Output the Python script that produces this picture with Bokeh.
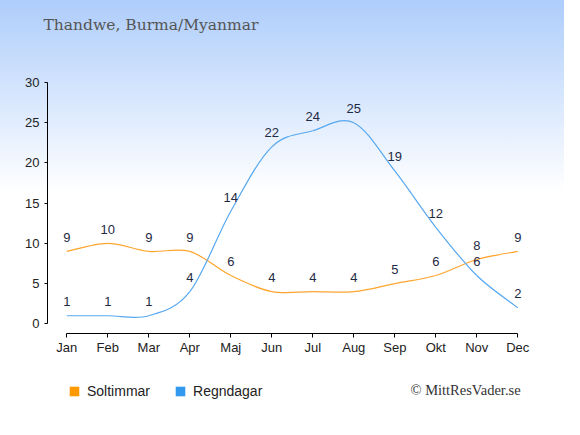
from bokeh.plotting import figure
from bokeh.models import Range1d, FixedTicker, Label, Legend, LegendItem, ColumnDataSource
from bokeh.core.properties import value
from bokeh.embed import file_html
from bokeh.resources import INLINE

# ---- data ----
months = ["Jan", "Feb", "Mar", "Apr", "Maj", "Jun", "Jul", "Aug", "Sep", "Okt", "Nov", "Dec"]
sun_hours = [9, 10, 9, 9, 6, 4, 4, 4, 5, 6, 8, 9]
rain_days = [1, 1, 1, 4, 14, 22, 24, 25, 19, 12, 6, 2]
y_ticks = [0, 5, 10, 15, 20, 25, 30]
series_names = ["Soltimmar", "Regndagar"]
title_text = "Thandwe, Burma/Myanmar"
credit_text = "\u00a9 MittResVader.se"

SUN_LINE = "#ffa52e"
RAIN_LINE = "#57a8f0"
SUN_KEY = "#ff9900"
RAIN_KEY = "#3399ee"
LABEL_COLOR = "#1f2a44"

xs = list(range(len(months)))
NAN = float("nan")


def spline_segments(px, py):
    """Catmull-Rom spline expressed as cubic Bezier segments (control points from the data)."""
    n = len(px)
    d = {k: [] for k in ("x0", "y0", "x1", "y1", "cx0", "cy0", "cx1", "cy1")}
    for i in range(n - 1):
        a = max(i - 1, 0)
        b = min(i + 2, n - 1)
        d["x0"].append(px[i]); d["y0"].append(py[i])
        d["x1"].append(px[i + 1]); d["y1"].append(py[i + 1])
        d["cx0"].append(px[i] + (px[i + 1] - px[a]) / 6)
        d["cy0"].append(py[i] + (py[i + 1] - py[a]) / 6)
        d["cx1"].append(px[i + 1] - (px[b] - px[i]) / 6)
        d["cy1"].append(py[i + 1] - (py[b] - py[i]) / 6)
    return ColumnDataSource(d)


p = figure(width=564, height=419,
           x_range=Range1d(-1.617, 12.139), y_range=Range1d(-11.899, 40.197),
           output_backend="svg", toolbar_location=None,
           min_border=0, min_border_left=0, min_border_right=0,
           min_border_top=0, min_border_bottom=0,
           background_fill_alpha=0, border_fill_alpha=0, outline_line_color=None)
p.styles = {"background": "linear-gradient(to bottom, #aecdfb 0px, #ffffff 192px)"}
p.grid.visible = False

# axes (drawn at fixed positions inside the frame)
p.xaxis.fixed_location = -1.206
p.yaxis.fixed_location = -0.471
p.xaxis.ticker = FixedTicker(ticks=xs)
p.xaxis.major_label_overrides = {i: m for i, m in enumerate(months)}
p.xaxis.bounds = (0, len(months) - 1)
p.yaxis.ticker = FixedTicker(ticks=y_ticks)
p.yaxis.bounds = (y_ticks[0], y_ticks[-1])
for ax in (p.xaxis, p.yaxis):
    ax.axis_line_color = "#000000"
    ax.major_tick_line_color = "#000000"
    ax.minor_tick_line_color = None
    ax.major_tick_in = 0
    ax.major_label_text_font = "Liberation Sans"
    ax.major_label_text_font_size = "13px"
    ax.major_label_text_color = "#222222"
p.xaxis.major_tick_out = 4
p.xaxis.major_label_standoff = 3
p.yaxis.major_tick_out = 3
p.yaxis.major_label_standoff = 5

# lines
p.bezier(x0="x0", y0="y0", x1="x1", y1="y1", cx0="cx0", cy0="cy0", cx1="cx1", cy1="cy1",
         source=spline_segments(xs, sun_hours), line_color=SUN_LINE, line_width=1.2)
p.bezier(x0="x0", y0="y0", x1="x1", y1="y1", cx0="cx0", cy0="cy0", cx1="cx1", cy1="cy1",
         source=spline_segments(xs, rain_days), line_color=RAIN_LINE, line_width=1.2)

# value labels
for vals in (sun_hours, rain_days):
    p.text(x=xs, y=vals, text=[str(v) for v in vals], y_offset=-14,
           text_align="center", text_baseline="middle",
           text_font=value("Liberation Sans"), text_font_size="13px", text_color=LABEL_COLOR)

# legend keys (renderers that draw nothing in the plot, only their legend swatch)
k_sun = p.quad(left=[NAN], right=[NAN], top=[NAN], bottom=[NAN], fill_color=SUN_KEY, line_color=None)
k_rain = p.quad(left=[NAN], right=[NAN], top=[NAN], bottom=[NAN], fill_color=RAIN_KEY, line_color=None)
legend = Legend(items=[LegendItem(label=series_names[0], renderers=[k_sun]),
                       LegendItem(label=series_names[1], renderers=[k_rain])],
                location=(68, 20), orientation="horizontal",
                padding=0, margin=0, spacing=24, glyph_width=12, glyph_height=12,
                label_height=12, label_standoff=7,
                label_text_font="Liberation Sans", label_text_font_size="14px",
                label_text_color="#222222",
                background_fill_alpha=0, border_line_color=None)
p.add_layout(legend)

# title and credit
p.add_layout(Label(x=-0.568, y=37.15, text=title_text, text_font="DejaVu Serif",
                   text_font_size="15.5px", text_color="#555555",
                   text_align="left", text_baseline="middle"))
p.add_layout(Label(x=8.383, y=-8.29, text=credit_text, text_font="Liberation Serif",
                   text_font_size="14.5px", text_color="#333333",
                   text_align="left", text_baseline="middle"))

open("out.html", "w").write(file_html(p, INLINE))
